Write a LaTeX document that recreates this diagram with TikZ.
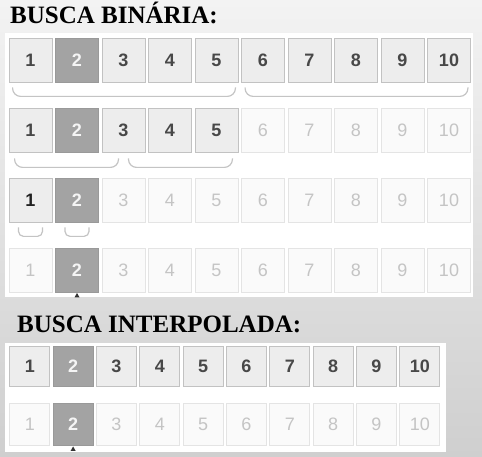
\documentclass[tikz,border=0pt]{standalone}
\usepackage{fontspec}
\setmainfont{Liberation Serif}
\newfontfamily\cellfont{Liberation Sans}
\usetikzlibrary{positioning}
\definecolor{bgtop}{HTML}{F3F3F3}
\definecolor{bgbot}{HTML}{CFCFCF}
\definecolor{cellfill}{HTML}{EDEDED}
\definecolor{cellline}{HTML}{C2C2C2}
\definecolor{celltext}{HTML}{484848}
\definecolor{neartext}{HTML}{222222}
\definecolor{hitfill}{HTML}{A3A3A3}
\definecolor{hitline}{HTML}{999999}
\definecolor{hittext}{HTML}{F5F5F5}
\definecolor{dimfill}{HTML}{FAFAFA}
\definecolor{dimline}{HTML}{E4E4E4}
\definecolor{dimtext}{HTML}{C4C4C4}
\definecolor{braceline}{HTML}{C4C4C4}
\definecolor{tipcol}{HTML}{333333}
\begin{document}
\begin{tikzpicture}[x=1pt,y=-1pt,
title/.style={anchor=base west, inner sep=0pt, font=\fontsize{25}{30}\selectfont\bfseries},
plain/.style={draw=cellline, fill=cellfill, text=celltext, line width=0.8pt, minimum width=43pt, minimum height=44pt, inner sep=0pt, font=\cellfont\fontsize{18}{22}\selectfont\bfseries},
hit/.style={plain, draw=hitline, fill=hitfill, text=hittext},
dim/.style={plain, draw=dimline, fill=dimfill, text=dimtext, font=\cellfont\fontsize{18}{22}\selectfont},
near/.style={plain, text=neartext},
bra/.style={draw=braceline, line width=1.2pt, rounded corners=8pt},
tip/.style={fill=tipcol}
]
\useasboundingbox (0,0) rectangle (482,457);
\shade[top color=bgtop, bottom color=bgbot] (0,0) rectangle (482,457);
\fill[white] (5,33) rectangle (473,297);
\fill[white] (5,343) rectangle (446,452);

% busca binaria
\node[title] (tbin) at (10,24) {BUSCA BINÁRIA:};
\foreach \s [count=\i] in {plain,hit,plain,plain,plain,plain,plain,plain,plain,plain}
  \node[\s] (a1-\i) at ({30.5+46.5*(\i-1)},60) {\i};
\foreach \s [count=\i] in {plain,hit,plain,plain,plain,dim,dim,dim,dim,dim}
  \node[\s] (a2-\i) at ({30.5+46.5*(\i-1)},130) {\i};
\foreach \s [count=\i] in {near,hit,dim,dim,dim,dim,dim,dim,dim,dim}
  \node[\s] (a3-\i) at ({30.5+46.5*(\i-1)},200) {\i};
\foreach \s [count=\i] in {dim,hit,dim,dim,dim,dim,dim,dim,dim,dim}
  \node[\s] (a4-\i) at ({30.5+46.5*(\i-1)},270) {\i};

\draw[bra] ([shift={(4,5)}]a1-1.south west) |- ([shift={(-3,14)}]a1-5.south east) -- ([shift={(-3,5)}]a1-5.south east);
\draw[bra] ([shift={(4,5)}]a1-6.south west) |- ([shift={(-3,14)}]a1-10.south east) -- ([shift={(-3,5)}]a1-10.south east);
\draw[bra] ([shift={(6,6)}]a2-1.south west) |- ([shift={(-5,15)}]a2-3.south) -- ([shift={(-5,6)}]a2-3.south);
\draw[bra] ([shift={(5,6)}]a2-3.south) |- ([shift={(-6,15)}]a2-5.south east) -- ([shift={(-6,6)}]a2-5.south east);
\draw[bra, rounded corners=5pt] ([shift={(-12,5)}]a3-1.south) |- ([shift={(12,14)}]a3-1.south) -- ([shift={(12,5)}]a3-1.south);
\draw[bra, rounded corners=5pt] ([shift={(-12,5)}]a3-2.south) |- ([shift={(12,14)}]a3-2.south) -- ([shift={(12,5)}]a3-2.south);
\fill[tip] ([shift={(-2.5,5)}]a4-2.south) -- ([shift={(0,0.5)}]a4-2.south) -- ([shift={(2.5,5)}]a4-2.south) -- cycle;

% busca interpolada
\node[title] (tint) at (17,332) {BUSCA INTERPOLADA:};
\foreach \s [count=\i] in {plain,hit,plain,plain,plain,plain,plain,plain,plain,plain}
  \node[\s, minimum width=40pt, minimum height=40pt] (b1-\i) at ({29.8+43.33*(\i-1)},366.5) {\i};
\foreach \s [count=\i] in {dim,hit,dim,dim,dim,dim,dim,dim,dim,dim}
  \node[\s, minimum width=40pt, minimum height=42pt] (b2-\i) at ({29.8+43.33*(\i-1)},424) {\i};
\fill[tip] ([shift={(-2.5,5.5)}]b2-2.south) -- ([shift={(0,1)}]b2-2.south) -- ([shift={(2.5,5.5)}]b2-2.south) -- cycle;
\end{tikzpicture}
\end{document}
